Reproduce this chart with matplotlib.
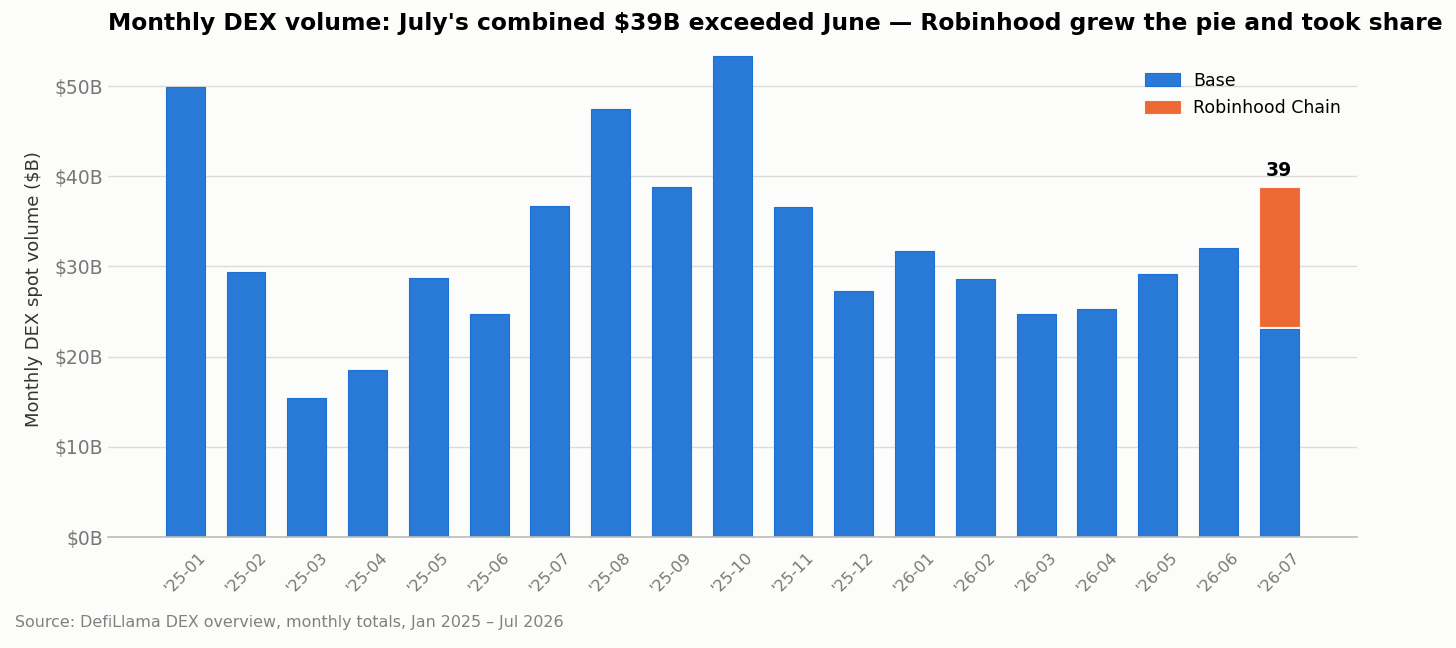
import matplotlib.pyplot as plt
import numpy as np

plt.rcParams["font.family"] = ["DejaVu Sans"]

months = ["'25-01", "'25-02", "'25-03", "'25-04", "'25-05", "'25-06", "'25-07",
          "'25-08", "'25-09", "'25-10", "'25-11", "'25-12", "'26-01", "'26-02",
          "'26-03", "'26-04", "'26-05", "'26-06", "'26-07"]
base = [49.9, 29.4, 15.4, 18.5, 28.7, 24.7, 36.7, 47.5, 38.8, 53.3, 36.6, 27.3,
        31.7, 28.6, 24.7, 25.3, 29.2, 32.0, 23.1]
robinhood = [0] * 18 + [15.6]

bg = "#fcfcfa"
blue = "#2979d6"
orange = "#ec6835"

fig = plt.figure(figsize=(14.56, 6.48), dpi=100, facecolor=bg)
ax = fig.add_axes([108 / 1456, 1 - 537 / 648, (1357 - 108) / 1456, (537 - 41) / 648])
ax.set_facecolor(bg)

x = np.arange(len(months))
ax.bar(x, base, width=0.64, color=blue, edgecolor="#1f6fd8", linewidth=0.8, label="Base", zorder=3)

# only the month that has Robinhood volume gets a stacked segment
gap = 0.3
rh_x = [i for i, v in enumerate(robinhood) if v > 0]
rh_bottom = [base[i] + gap for i in rh_x]
rh_height = [robinhood[i] - gap for i in rh_x]
ax.bar(rh_x, rh_height, width=0.64, bottom=rh_bottom, color=orange, edgecolor="#f07040",
       linewidth=0.8, label="Robinhood Chain", zorder=3)

total = base[-1] + robinhood[-1]
ax.text(x[-1], total + 0.9, f"{total:.0f}", ha="center", va="bottom",
        fontsize=13.5, fontweight="bold")

ax.set_xlim(-1.27, 19.28)
ax.set_ylim(0, 55)
ax.set_yticks([0, 10, 20, 30, 40, 50])
ax.set_yticklabels([f"${v}B" for v in [0, 10, 20, 30, 40, 50]])
ax.set_xticks(x)
ax.set_xticklabels(months, rotation=45)
ax.tick_params(axis="both", length=0, labelsize=13.5, labelcolor="#777777")
ax.tick_params(axis="x", labelsize=11.5, pad=9)
ax.grid(axis="y", color="#dcdcd8", linewidth=1, zorder=0)
for s in ["top", "right", "left"]:
    ax.spines[s].set_visible(False)
ax.spines["bottom"].set_color("#bdbdb5")
ax.spines["bottom"].set_linewidth(1.2)
ax.spines["bottom"].set_zorder(4)

ax.set_ylabel("Monthly DEX spot volume ($B)", fontsize=13, color="#333333", labelpad=8)
ax.set_title("Monthly DEX volume: July's combined $39B exceeded June — Robinhood grew the pie and took share",
             loc="left", fontsize=16.85, fontweight="bold", pad=8)
ax.legend(loc="upper right", frameon=False, fontsize=12.5, bbox_to_anchor=(1.0, 0.97),
          handlelength=2.0, labelspacing=0.55)

fig.text(15 / 1456, 1 - 623 / 648, "Source: DefiLlama DEX overview, monthly totals, Jan 2025 – Jul 2026",
         fontsize=11.4, color="#808080", va="center")

fig.savefig("out.png", dpi=100, facecolor=bg)
